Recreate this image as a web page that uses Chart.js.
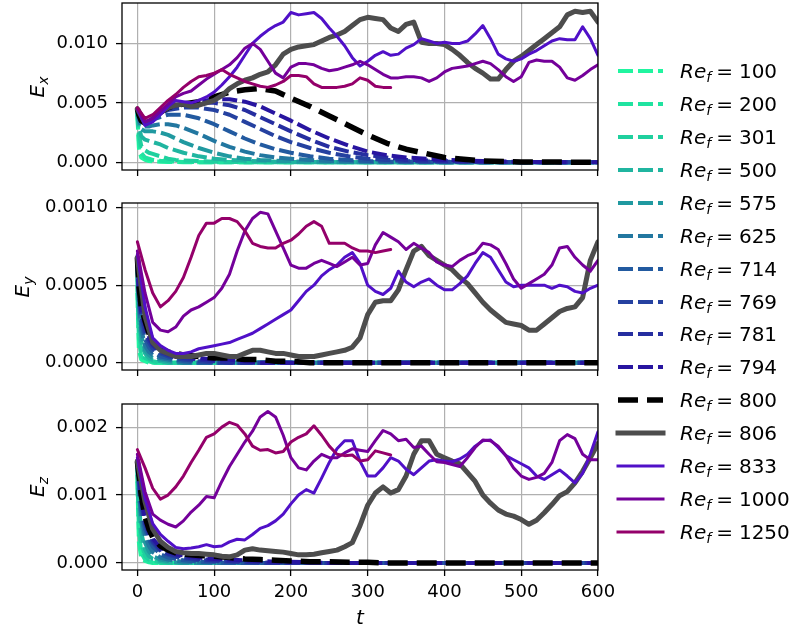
<!DOCTYPE html>
<html>
<head>
<meta charset="utf-8">
<script src="https://cdn.jsdelivr.net/npm/chart.js@4/dist/chart.umd.min.js"></script>
<style>
body { margin: 0; background: #fff; }
#wrap { position: relative; width: 802px; height: 632px; font-family: "DejaVu Sans"; color: #000; overflow: hidden; }
canvas { position: absolute; left: 0; }
.lab { position: absolute; font-size: 20px; white-space: nowrap; transform: translate(-50%, -50%); }
.rot { transform: translate(-50%, -50%) rotate(-90deg); }
sub { font-size: 70%; vertical-align: -0.3em; line-height: 0; }
.leg { position: absolute; left: 612px; height: 24px; width: 190px; z-index: 5; }
.leg svg { position: absolute; left: 0; top: 0; }
.leg .txt { position: absolute; left: 68px; top: 0; line-height: 24px; font-size: 20px; white-space: nowrap; }
.eq { margin: 0 6px 0 5px; }
</style>
</head>
<body>
<div id="wrap">
  <canvas id="cx" width="620" height="200" style="top:0px"></canvas>
  <canvas id="cy" width="620" height="210" style="top:190px"></canvas>
  <canvas id="cz" width="620" height="242" style="top:390px"></canvas>
  <div class="lab rot" style="left:37px; top:87px"><i>E</i><sub><i>x</i></sub></div>
  <div class="lab rot" style="left:22px; top:287px"><i>E</i><sub><i>y</i></sub></div>
  <div class="lab rot" style="left:37px; top:487px"><i>E</i><sub><i>z</i></sub></div>
  <div class="lab" style="left:360px; top:617px"><i>t</i></div>
  <div id="legend"></div>
</div>
<script>
// Re_f 値
const reNames = ["100", "200", "301", "500", "575", "625", "714", "769", "781", "794", "800", "806", "833", "1000", "1250"];

const lineColors = ["#20f5a0", "#20e3a0", "#1fd09e", "#20b5a0", "#2099a0", "#2277a0", "#225aa0", "#2541a0", "#262ea0", "#2815a0",
                    "#000000", "#4d4d4d", "#5010c8", "#74009a", "#94006a"];
const lineWidths = [4, 4, 4, 4, 4, 4, 4, 4, 4, 4, 5.5, 5, 3, 3, 3];
const lineDashes = [[15, 5], [15, 5], [15, 5], [15, 5], [15, 5], [15, 5], [15, 5], [15, 5], [15, 5], [15, 5], [20, 9], [], [], [], []];

// time axes
const tDecay = [0, 2, 5, 10, 15, 20, 30, 40, 50, 60, 80, 100, 120, 140, 160, 180, 200, 225, 250, 275, 300, 325, 350, 400, 450, 500, 600];
const tFine = [0, 10, 20, 30, 40, 50, 60, 70, 80, 90,
               100, 110, 120, 130, 140, 150, 160, 170, 180, 190,
               200, 210, 220, 230, 240, 250, 260, 270, 280, 290,
               300, 310, 320, 330, 340, 350, 360, 370, 380, 390,
               400, 410, 420, 430, 440, 450, 460, 470, 480, 490,
               500, 510, 520, 530, 540, 550, 560, 570, 580, 590, 600];
const tShort = tFine.slice(0, 34); // Re_f=1250 は t=330 まで

const xTickVals = [0, 100, 200, 300, 400, 500, 600];

// ---- E_x ----
const ex100 = [.0040, .0012, .0004, .0002, .0001, .00008, .00005, .00003, .00002, .00001, 0, 0, 0, 0, 0, 0, 0, 0, 0, 0, 0, 0, 0, 0, 0, 0, 0];
const ex200 = [.0041, .0018, .0008, .0004, .0003, .0002, .00012, .00008, .00005, .00003, .00001, 0, 0, 0, 0, 0, 0, 0, 0, 0, 0, 0, 0, 0, 0, 0, 0];
const ex301 = [.0042, .0024, .0014, .0010, .0008, .0007, .0005, .0003, .0002, .00015, .0001, .00005, .00002, .00001, 0, 0, 0, 0, 0, 0, 0, 0, 0, 0, 0, 0, 0];
const ex500 = [.0043, .0030, .0022, .0019, .0018, .0017, .0015, .0012, .0010, .0008, .0005, .0003, .0002, .00012, .00008, .00005, .00003, .00002, .00001, 0, 0, 0, 0, 0, 0, 0, 0];
const ex575 = [.0044, .0034, .0028, .0026, .0026, .0026, .0025, .0023, .0020, .0017, .0012, .0008, .0005, .0003, .0002, .00013, .00008, .00005, .00003, .00002, .00001, 0, 0, 0, 0, 0, 0];
const ex625 = [.0044, .0036, .0031, .0030, .0030, .0031, .0032, .0032, .0031, .0029, .0024, .0018, .0013, .0009, .0006, .0004, .0003, .0002, .0001, .00006, .00004, .00002, .00001, 0, 0, 0, 0];
const ex714 = [.0045, .0038, .0034, .0033, .0034, .0036, .0038, .0040, .0040, .0040, .0037, .0032, .0026, .0020, .0015, .0011, .0008, .0005, .0003, .0002, .0001, .00006, .00004, .00001, 0, 0, 0];
const ex769 = [.0045, .0039, .0035, .0033, .0034, .0037, .0041, .0044, .0045, .0046, .0046, .0044, .0040, .0034, .0028, .0022, .0017, .0012, .0008, .0005, .0003, .0002, .0001, .00004, .00001, 0, 0];
const ex781 = [.0045, .0039, .0035, .0033, .0034, .0037, .0042, .0045, .0047, .0048, .0050, .0050, .0048, .0044, .0038, .0032, .0026, .0019, .0013, .0009, .0006, .0004, .0002, .0001, .00003, .00001, 0];
const ex794 = [.0045, .0040, .0035, .0033, .0034, .0037, .0042, .0046, .0048, .0049, .0051, .0053, .0053, .0051, .0047, .0041, .0035, .0027, .0020, .0014, .0009, .0006, .0004, .0002, .0001, .00003, 0];
const ex800 = [.0045, .0040, .0035, .0033, .0034, .0037, .0042, .0046, .0048, .0049, .0051, .0055, .0059, .0061, .0062, .0060, .0054, .0047, .0039, .0031, .0023, .0016, .0011, .0004, .0001, .00003, 0];
const ex806 = [.0045, .0033, .0036, .0042, .0046, .0048, .0049, .0047, .0048, .0050,
               .0052, .0056, .0062, .0066, .0069, .0071, .0074, .0076, .0082, .0091,
               .0095, .0097, .0098, .0099, .0102, .0105, .0107, .0110, .0115, .0120,
               .0122, .0121, .0120, .0113, .0110, .0116, .0118, .0101, .0100, .0100,
               .0099, .0095, .0090, .0084, .0079, .0075, .0070, .0070, .0078, .0085,
               .0089, .0094, .0099, .0104, .0109, .0114, .0124, .0127, .0126, .0127, .0118];
const ex833 = [.0045, .0031, .0034, .0040, .0047, .0052, .0051, .0050, .0052, .0055,
               .0059, .0065, .0072, .0080, .0090, .0100, .0106, .0111, .0115, .0118,
               .0126, .0124, .0125, .0126, .0121, .0113, .0106, .0098, .0088, .0081,
               .0085, .0090, .0093, .0090, .0091, .0096, .0099, .0104, .0102, .0100,
               .0101, .0100, .0100, .0102, .0108, .0115, .0104, .0091, .0087, .0085,
               .0087, .0091, .0094, .0098, .0102, .0104, .0103, .0103, .0114, .0104, .0090];
const ex1000 = [.0045, .0034, .0037, .0043, .0049, .0055, .0058, .0060, .0065, .0070,
                .0074, .0078, .0082, .0088, .0096, .0100, .0095, .0085, .0075, .0071,
                .0080, .0083, .0083, .0082, .0079, .0077, .0078, .0080, .0082, .0085,
                .0082, .0078, .0074, .0071, .0071, .0072, .0072, .0071, .0068, .0071,
                .0076, .0079, .0080, .0081, .0083, .0085, .0083, .0078, .0072, .0068,
                .0072, .0084, .0086, .0085, .0085, .0080, .0071, .0069, .0073, .0078, .0082];
const ex1250 = [.0046, .0037, .0040, .0046, .0052, .0057, .0063, .0068, .0072, .0073,
                .0075, .0078, .0074, .0071, .0068, .0066, .0064, .0063, .0065, .0068,
                .0073, .0073, .0072, .0066, .0063, .0063, .0063, .0064, .0066, .0071,
                .0069, .0064, .0063, .0063];

// ---- E_y ----
const ey100 = [.00045, .00008, .00002, .00001, 0, 0, 0, 0, 0, 0, 0, 0, 0, 0, 0, 0, 0, 0, 0, 0, 0, 0, 0, 0, 0, 0, 0];
const ey200 = [.00050, .00015, .00004, .00002, .00001, 0, 0, 0, 0, 0, 0, 0, 0, 0, 0, 0, 0, 0, 0, 0, 0, 0, 0, 0, 0, 0, 0];
const ey301 = [.00055, .00022, .00008, .00003, .00002, .00001, 0, 0, 0, 0, 0, 0, 0, 0, 0, 0, 0, 0, 0, 0, 0, 0, 0, 0, 0, 0, 0];
const ey500 = [.00060, .00030, .00014, .00006, .00003, .00002, .00001, 0, 0, 0, 0, 0, 0, 0, 0, 0, 0, 0, 0, 0, 0, 0, 0, 0, 0, 0, 0];
const ey575 = [.00062, .00034, .00018, .00008, .00005, .00003, .00002, .00001, 0, 0, 0, 0, 0, 0, 0, 0, 0, 0, 0, 0, 0, 0, 0, 0, 0, 0, 0];
const ey625 = [.00064, .00038, .00022, .00011, .00007, .00005, .00003, .00002, .00001, 0, 0, 0, 0, 0, 0, 0, 0, 0, 0, 0, 0, 0, 0, 0, 0, 0, 0];
const ey714 = [.00066, .00042, .00026, .00015, .00010, .00007, .00004, .00003, .00002, .00001, 0, 0, 0, 0, 0, 0, 0, 0, 0, 0, 0, 0, 0, 0, 0, 0, 0];
const ey769 = [.00067, .00045, .00030, .00019, .00013, .00009, .00006, .00004, .00003, .00002, .00001, 0, 0, 0, 0, 0, 0, 0, 0, 0, 0, 0, 0, 0, 0, 0, 0];
const ey781 = [.00067, .00046, .00032, .00022, .00015, .00011, .00007, .00005, .00004, .00003, .00002, .00001, 0, 0, 0, 0, 0, 0, 0, 0, 0, 0, 0, 0, 0, 0, 0];
const ey794 = [.00068, .00048, .00034, .00025, .00017, .00012, .00008, .00006, .00005, .00004, .00003, .00002, .00002, .00001, 0, 0, 0, 0, 0, 0, 0, 0, 0, 0, 0, 0, 0];
const ey800 = [.00068, .00050, .00036, .00027, .00019, .00014, .00009, .00007, .00006, .00005, .00004, .00003, .00003, .00002, .00002, .00001, .00001, 0, 0, 0, 0, 0, 0, 0, 0, 0, 0];
const ey806 = [.00068, .00030, .00013, .00008, .00006, .00004, .00004, .00004, .00005, .00006,
               .00006, .00005, .00004, .00004, .00006, .00008, .00008, .00007, .00006, .00006,
               .00005, .00004, .00004, .00004, .00005, .00006, .00007, .00008, .00010, .00016,
               .00031, .00039, .00040, .00040, .00047, .00060, .00072, .00075, .00069, .00066,
               .00063, .00060, .00055, .00051, .00045, .00039, .00034, .00030, .00026, .00025,
               .00024, .00021, .00021, .00025, .00029, .00033, .00035, .00036, .00042, .00066, .00078];
const ey833 = [.00070, .00036, .00016, .00011, .00008, .00006, .00006, .00007, .00009, .00010,
               .00011, .00012, .00013, .00015, .00017, .00019, .00022, .00025, .00028, .00031,
               .00034, .00040, .00046, .00050, .00056, .00060, .00063, .00068, .00071, .00064,
               .00050, .00046, .00044, .00048, .00059, .00052, .00049, .00052, .00054, .00050,
               .00047, .00047, .00051, .00056, .00064, .00071, .00068, .00060, .00052, .00049,
               .00050, .00050, .00050, .00050, .00048, .00050, .00049, .00046, .00045, .00048, .00050];
const ey1000 = [.00072, .00045, .00026, .00021, .00020, .00023, .00030, .00034, .00036, .00039,
                .00042, .00048, .00057, .00072, .00085, .00093, .00097, .00096, .00085, .00074,
                .00063, .00061, .00061, .00064, .00066, .00064, .00062, .00065, .00068, .00063,
                .00064, .00076, .00084, .00081, .00078, .00073, .00077, .00074, .00071, .00065,
                .00063, .00062, .00066, .00069, .00071, .00077, .00076, .00073, .00064, .00054,
                .00048, .00051, .00054, .00057, .00063, .00074, .00075, .00068, .00063, .00059, .00066];
const ey1250 = [.00078, .00060, .00045, .00036, .00040, .00046, .00055, .00068, .00082, .00090,
                .00090, .00093, .00093, .00091, .00085, .00077, .00075, .00074, .00074, .00077,
                .00079, .00083, .00088, .00091, .00088, .00077, .00077, .00077, .00074, .00072,
                .00072, .00071, .00072, .00073];

// ---- E_z ----
const ez100 = [.0012, .0003, .00008, .00003, .00001, 0, 0, 0, 0, 0, 0, 0, 0, 0, 0, 0, 0, 0, 0, 0, 0, 0, 0, 0, 0, 0, 0];
const ez200 = [.0013, .0005, .00015, .00005, .00002, .00001, 0, 0, 0, 0, 0, 0, 0, 0, 0, 0, 0, 0, 0, 0, 0, 0, 0, 0, 0, 0, 0];
const ez301 = [.0014, .0007, .0003, .0001, .00005, .00003, .00001, 0, 0, 0, 0, 0, 0, 0, 0, 0, 0, 0, 0, 0, 0, 0, 0, 0, 0, 0, 0];
const ez500 = [.0014, .0009, .00045, .0002, .0001, .00006, .00003, .00001, 0, 0, 0, 0, 0, 0, 0, 0, 0, 0, 0, 0, 0, 0, 0, 0, 0, 0, 0];
const ez575 = [.0015, .0010, .0006, .0003, .00017, .0001, .00005, .00003, .00001, 0, 0, 0, 0, 0, 0, 0, 0, 0, 0, 0, 0, 0, 0, 0, 0, 0, 0];
const ez625 = [.0015, .0011, .0007, .0004, .00025, .00016, .00008, .00005, .00003, .00002, .00001, 0, 0, 0, 0, 0, 0, 0, 0, 0, 0, 0, 0, 0, 0, 0, 0];
const ez714 = [.0015, .0012, .0008, .0005, .00035, .00024, .00013, .00008, .00006, .00004, .00002, .00001, 0, 0, 0, 0, 0, 0, 0, 0, 0, 0, 0, 0, 0, 0, 0];
const ez769 = [.0015, .0012, .0009, .00058, .0004, .0003, .00018, .00012, .00009, .00007, .00004, .00003, .00002, .00001, 0, 0, 0, 0, 0, 0, 0, 0, 0, 0, 0, 0, 0];
const ez781 = [.0015, .0013, .0009, .0006, .00044, .00033, .0002, .00014, .00011, .00009, .00006, .00004, .00003, .00002, .00001, 0, 0, 0, 0, 0, 0, 0, 0, 0, 0, 0, 0];
const ez794 = [.0015, .0013, .0010, .00065, .00048, .00036, .00023, .00017, .00013, .00011, .00008, .00006, .00005, .00004, .00003, .00002, .00002, .00001, 0, 0, 0, 0, 0, 0, 0, 0, 0];
const ez800 = [.0015, .0013, .0010, .00068, .0005, .00038, .00025, .00019, .00015, .00013, .00011, .0001, .00008, .00006, .00005, .00004, .00003, .00002, .00002, .00001, .00001, 0, 0, 0, 0, 0, 0];
const ez806 = [.00150, .00090, .00050, .00032, .00023, .00017, .00015, .00014, .00014, .00013,
               .00012, .00010, .00009, .00012, .00019, .00021, .00019, .00018, .00017, .00016,
               .00014, .00012, .00012, .00013, .00015, .00017, .00019, .00024, .00030, .00055,
               .00085, .00103, .00112, .00103, .00108, .00128, .00160, .00180, .00180, .00160,
               .00155, .00150, .00146, .00133, .00120, .00100, .00088, .00078, .00072, .00069,
               .00064, .00057, .00063, .00074, .00086, .00099, .00105, .00118, .00135, .00155, .00176];
const ez833 = [.00155, .00095, .00058, .00042, .00032, .00023, .00021, .00022, .00024, .00027,
               .00024, .00025, .00031, .00035, .00034, .00042, .00051, .00055, .00062, .00072,
               .00087, .00100, .00108, .00103, .00125, .00148, .00168, .00180, .00180, .00150,
               .00128, .00128, .00140, .00155, .00150, .00138, .00130, .00140, .00150, .00152,
               .00150, .00149, .00153, .00160, .00172, .00180, .00181, .00170, .00158, .00152,
               .00146, .00140, .00128, .00123, .00130, .00137, .00128, .00118, .00132, .00160, .00193];
const ez1000 = [.00160, .00105, .00072, .00063, .00057, .00053, .00062, .00075, .00085, .00098,
                .00096, .00120, .00142, .00160, .00178, .00194, .00215, .00223, .00215, .00188,
                .00155, .00140, .00137, .00150, .00160, .00155, .00155, .00162, .00168, .00166,
                .00164, .00180, .00195, .00190, .00180, .00182, .00170, .00172, .00160, .00149,
                .00148, .00145, .00142, .00155, .00170, .00181, .00180, .00172, .00158, .00140,
                .00128, .00123, .00126, .00132, .00148, .00180, .00189, .00183, .00160, .00152, .00152];
const ez1250 = [.00167, .00140, .00110, .00094, .00100, .00112, .00128, .00148, .00166, .00185,
                .00190, .00200, .00207, .00203, .00190, .00172, .00166, .00167, .00162, .00164,
                .00178, .00185, .00190, .00202, .00188, .00172, .00160, .00158, .00159, .00150,
                .00152, .00165, .00162, .00159];

const exSeries = [ex100, ex200, ex301, ex500, ex575, ex625, ex714, ex769, ex781, ex794, ex800, ex806, ex833, ex1000, ex1250];
const eySeries = [ey100, ey200, ey301, ey500, ey575, ey625, ey714, ey769, ey781, ey794, ey800, ey806, ey833, ey1000, ey1250];
const ezSeries = [ez100, ez200, ez301, ez500, ez575, ez625, ez714, ez769, ez781, ez794, ez800, ez806, ez833, ez1000, ez1250];

const exTicks = [0, 0.005, 0.010], exTickText = ["0.000", "0.005", "0.010"];
const eyTicks = [0, 0.0005, 0.0010], eyTickText = ["0.0000", "0.0005", "0.0010"];
const ezTicks = [0, 0.001, 0.002], ezTickText = ["0.000", "0.001", "0.002"];

Chart.defaults.font.family = "'DejaVu Sans'";
Chart.defaults.font.size = 18;
Chart.defaults.color = "#000";

function timeFor(i) {
    if (i <= 10) return tDecay;
    if (i == 14) return tShort;
    return tFine;
}

// 枠線 (matplotlib の spines)
const frame = {
    id: "frame",
    afterDatasetsDraw: function (chart) {
	const a = chart.chartArea;
	const ctx = chart.ctx;
	ctx.save();
	ctx.strokeStyle = "#000";
	ctx.lineWidth = 1.3;
	ctx.strokeRect(a.left, a.top, a.right - a.left, a.bottom - a.top);
	ctx.restore();
    }
};

function makePanel(canvasId, series, yMin, yMax, yTickVals, yTickText, showX, padTop, xAxisH) {
    var datasets = [];
    for (let i = 0; i < series.length; i++) {
	const ts = timeFor(i);
	datasets.push({
	    label: "Re_f = " + reNames[i],
	    data: ts.map(function (t, k) { return {x: t, y: series[i][k]}; }),
	    borderColor: lineColors[i],
	    borderWidth: lineWidths[i],
	    borderDash: lineDashes[i],
	    borderCapStyle: lineDashes[i].length ? "butt" : "round",
	    borderJoinStyle: "round",
	    pointRadius: 0,
	    fill: false,
	    tension: 0,
	    order: series.length - i,
	});
    }
    return new Chart(document.getElementById(canvasId), {
	type: "line",
	data: {datasets: datasets},
	options: {
	    responsive: false,
	    animation: false,
	    devicePixelRatio: 1,
	    layout: {padding: {top: padTop, right: 22, left: 0, bottom: 0}},
	    plugins: {legend: {display: false}, tooltip: {enabled: false}},
	    scales: {
		x: {
		    type: "linear", min: -20, max: 600,
		    afterBuildTicks: function (s) { s.ticks = xTickVals.map(function (v) { return {value: v}; }); },
		    afterFit: function (s) { s.height = xAxisH; s.paddingLeft = 0; s.paddingRight = 0; },
		    ticks: {display: showX, padding: 6, maxRotation: 0, autoSkip: false,
			    callback: function (v) { return String(v); }},
		    grid: {color: "#b0b0b0", lineWidth: 1.2, tickColor: "#000", tickLength: 6, tickWidth: 1.3},
		    border: {display: false}
		},
		y: {
		    type: "linear", min: yMin, max: yMax,
		    afterBuildTicks: function (s) { s.ticks = yTickVals.map(function (v) { return {value: v}; }); },
		    afterFit: function (s) { s.width = 122; s.paddingTop = 0; s.paddingBottom = 0; },
		    ticks: {padding: 8, autoSkip: false,
			    callback: function (v, idx) { return yTickText[idx]; }},
		    grid: {color: "#b0b0b0", lineWidth: 1.2, tickColor: "#000", tickLength: 6, tickWidth: 1.3},
		    border: {display: false}
		}
	    }
	},
	plugins: [frame]
    });
}

function buildLegend() {
    const box = document.getElementById("legend");
    for (let i = 0; i < reNames.length; i++) {
	const row = document.createElement("div");
	row.className = "leg";
	row.style.top = (71 + 32.93 * i - 12) + "px";
	var dash = "";
	if (lineDashes[i].length) {
	    dash = ' stroke-dasharray="' + lineDashes[i].join(",") + '"';
	}
	const cap = lineDashes[i].length ? "butt" : "square";
	row.innerHTML = '<svg width="60" height="24"><line x1="6" y1="12" x2="51" y2="12" stroke="' + lineColors[i] +
	    '" stroke-width="' + lineWidths[i] + '" stroke-linecap="' + cap + '"' + dash + '/></svg>' +
	    '<span class="txt"><i>Re</i><sub><i>f</i></sub><span class="eq">=</span>' + reNames[i] + '</span>';
	box.appendChild(row);
    }
}

makePanel("cx", exSeries, -0.00065, 0.0134, exTicks, exTickText, false, 3, 30);
makePanel("cy", eySeries, -0.000047, 0.00103, eyTicks, eyTickText, false, 13, 30);
makePanel("cz", ezSeries, -0.000103, 0.00234, ezTicks, ezTickText, true, 14, 62);
buildLegend();
</script>
</body>
</html>
